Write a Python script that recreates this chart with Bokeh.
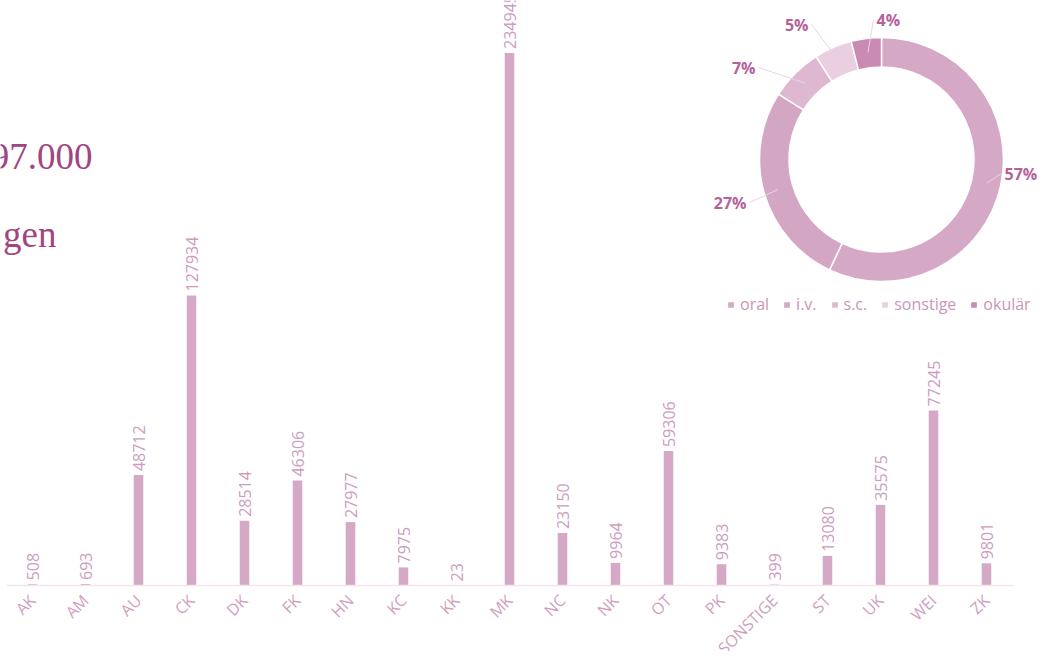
import math
from bokeh.plotting import figure
from bokeh.models import Range1d, FixedTicker, LinearAxis, Legend, LegendItem
from bokeh.core.properties import value
from bokeh.embed import file_html
from bokeh.resources import INLINE

# ---------------- data ----------------
categories = ["AK", "AM", "AU", "CK", "DK", "FK", "HN", "KC", "KK", "MK",
              "NC", "NK", "OT", "PK", "SONSTIGE", "ST", "UK", "WEI", "ZK"]
counts = [508, 693, 48712, 127934, 28514, 46306, 27977, 7975, 23, 234945,
          23150, 9964, 59306, 9383, 399, 13080, 35575, 77245, 9801]

route_labels = ["oral", "i.v.", "s.c.", "sonstige", "okulär"]
route_shares = [57, 27, 7, 5, 4]

headline_lines = ["97.000", "gen"]

# ---------------- styles ----------------
route_colors = ["#d5a9c6", "#d3a6c4", "#ddb8d0", "#e9cfdf", "#c98ab3"]
BAR = "#d5a9c6"
VAL_COL = "#cd9dbe"
AX_COL = "#cf9fc0"
PCT_COL = "#b5629c"
LEG_COL = "#c897b9"
HEAD_COL = "#a2457f"
SANS = "Open Sans"

W, H = 1040, 651
BASE_PX = 585            # pixel row of the value axis zero line
UNITS_PER_PX = 441.15
FIRST_PX, STEP_PX = 32, 53   # category band layout

p = figure(width=W, height=H, output_backend="svg", toolbar_location=None,
           x_axis_type=None, y_axis_type=None,
           x_range=Range1d(-FIRST_PX / STEP_PX, (W - FIRST_PX) / STEP_PX),
           y_range=Range1d(-(H - BASE_PX) * UNITS_PER_PX, BASE_PX * UNITS_PER_PX),
           min_border=0)
p.outline_line_color = None
p.background_fill_color = "white"
p.extra_x_ranges = {"px": Range1d(0, W)}
p.extra_y_ranges = {"px": Range1d(0, H)}

idx = list(range(len(categories)))

# bars
p.vbar(x=idx, top=counts, bottom=0, width=0.18, fill_color=BAR, line_color=None)

# value labels
p.text(x=idx, y=counts, text=[str(c) for c in counts], angle=math.pi / 2,
       text_align="left", text_baseline="middle", y_offset=-4,
       text_font=value(SANS), text_font_size="16px", text_color=VAL_COL)

# category axis, fixed at zero
xaxis = LinearAxis(ticker=FixedTicker(ticks=idx), fixed_location=0,
                   major_label_overrides={i: c for i, c in enumerate(categories)})
xaxis.bounds = (-0.5, len(categories) - 0.5)
xaxis.axis_line_color = "#f4e4ee"
xaxis.axis_line_width = 1.5
xaxis.major_tick_line_color = None
xaxis.minor_tick_line_color = None
xaxis.major_tick_out = 0
xaxis.major_tick_in = 0
xaxis.major_label_orientation = math.pi / 4
xaxis.major_label_standoff = 12
xaxis.major_label_text_font = SANS
xaxis.major_label_text_font_size = "16px"
xaxis.major_label_text_color = AX_COL
p.add_layout(xaxis, "below")

# headline (cut at the left edge as in the slide)
p.text(x=[92], y=[H - 156], text=[headline_lines[0]], x_range_name="px", y_range_name="px",
       text_align="right", text_baseline="alphabetic",
       text_font=value("Liberation Serif"), text_font_size="37px", text_color=HEAD_COL)
p.text(x=[56], y=[H - 234], text=[headline_lines[1]], x_range_name="px", y_range_name="px",
       text_align="right", text_baseline="alphabetic",
       text_font=value("Liberation Serif"), text_font_size="37px", text_color=HEAD_COL)

# donut
cx, cy = 881, H - 159
R_OUT, R_IN = 122, 92.5
starts, ends, mids = [], [], []
cum = 0.0
for s in route_shares:
    starts.append(math.pi / 2 - 2 * math.pi * cum / 100)
    ends.append(math.pi / 2 - 2 * math.pi * (cum + s) / 100)
    mids.append(math.pi / 2 - 2 * math.pi * (cum + s / 2) / 100)
    cum += s

wedges = p.annular_wedge(x=[cx] * len(route_shares), y=[cy] * len(route_shares),
                         inner_radius=R_IN, outer_radius=R_OUT,
                         inner_radius_units="screen", outer_radius_units="screen",
                         start_angle=starts, end_angle=ends, direction="clock",
                         fill_color=route_colors, line_color="white", line_width=1.5,
                         x_range_name="px", y_range_name="px")

# percent labels with leader lines (label placement offsets from donut centre)
label_offsets = [(123, -14, "left"), (-135, -43, "right"), (-126, 92, "right"),
                 (-73, 135, "right"), (-5, 140, "left")]
lx, ly, la, pct = [], [], [], []
x0s, y0s, x1s, y1s = [], [], [], []
r_lead = 108
for m, s, (dx, dy, al) in zip(mids, route_shares, label_offsets):
    tx, ty = cx + dx, cy + dy
    lx.append(tx); ly.append(ty); la.append(al); pct.append(f"{s}%")
    x0s.append(cx + r_lead * math.cos(m)); y0s.append(cy + r_lead * math.sin(m))
    x1s.append(tx - 3 if al == "left" else tx + 3); y1s.append(ty)

p.segment(x0=x0s, y0=y0s, x1=x1s, y1=y1s, line_color="#ebd3e3", line_width=1,
          x_range_name="px", y_range_name="px")
p.text(x=lx, y=ly, text=pct, text_align=la, text_baseline="middle",
       text_font=value(SANS), text_font_size="16px", text_font_style="bold",
       text_color=PCT_COL, x_range_name="px", y_range_name="px")

legend = Legend(items=[LegendItem(label=l, renderers=[wedges], index=i)
                       for i, l in enumerate(route_labels)],
                orientation="horizontal", location=(726, H - 305 - 10))
legend.padding = 0
legend.margin = 0
legend.spacing = 13
legend.glyph_width = 9
legend.glyph_height = 9
legend.label_height = 20
legend.label_standoff = 5
legend.label_text_font = SANS
legend.label_text_font_size = "16px"
legend.label_text_color = LEG_COL
legend.border_line_color = None
legend.background_fill_alpha = 0
p.add_layout(legend)

open("out.html", "w").write(file_html(p, INLINE))
